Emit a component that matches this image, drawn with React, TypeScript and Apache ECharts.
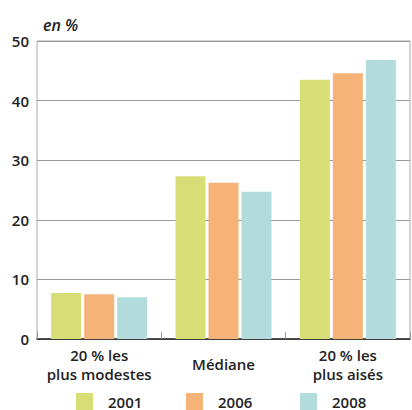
import React, { useEffect, useRef } from "react";
import * as echarts from "echarts";

const categories = ["20 % les\nplus modestes", "Médiane", "20 % les\nplus aisés"];
const years = ["2001", "2006", "2008"];
const values2001 = [7.7, 27.3, 43.5];
const values2006 = [7.5, 26.2, 44.6];
const values2008 = [7.0, 24.7, 46.8];
const yTicks = [0, 10, 20, 30, 40, 50];
const colors = ["#d6de75", "#f5b378", "#b1dcdb"];

const FONT = "'Open Sans', 'Noto Sans', sans-serif";

export default function App() {
  const ref = useRef<HTMLDivElement>(null);
  useEffect(() => {
    if (!ref.current) return;
    const chart = echarts.init(ref.current, undefined, { renderer: "svg" });
    const seriesData = [values2001, values2006, values2008];
    const legendLefts = [76, 186, 300];
    const LH = 19;
    const catData = categories.map((c) =>
      c.indexOf("\n") >= 0
        ? c
        : { value: c, textStyle: { lineHeight: LH * 2 } }
    );
    chart.setOption({
      animation: false,
      backgroundColor: "#ffffff",
      title: {
        text: "en %",
        left: 38,
        top: 12,
        textStyle: {
          fontFamily: FONT,
          fontStyle: "italic",
          fontWeight: 600,
          fontSize: 16,
          color: "#222",
        },
      },
      grid: {
        left: 37,
        right: 2,
        top: 41,
        bottom: 71,
        show: true,
        borderColor: "#aaa",
        borderWidth: 1,
      },
      legend: years.map((y, i) => ({
        data: [y],
        left: legendLefts[i],
        top: 393,
        padding: 0,
        itemWidth: 17,
        itemHeight: 17,
        itemGap: 0,
        icon: "rect",
        textStyle: {
          fontFamily: FONT,
          fontWeight: 600,
          fontSize: 15,
          lineHeight: 17,
          color: "#222",
          padding: [0, 0, 0, 10],
        },
      })),
      xAxis: {
        type: "category",
        data: catData,
        axisLine: { show: true, lineStyle: { color: "#222", width: 1.5 } },
        axisTick: {
          show: true,
          inside: true,
          length: 7,
          lineStyle: { color: "#999", width: 1 },
        },
        axisLabel: {
          interval: 0,
          fontFamily: FONT,
          fontWeight: 600,
          fontSize: 15,
          color: "#222",
          lineHeight: LH,
          margin: 6,
        },
      },
      yAxis: {
        type: "value",
        min: yTicks[0],
        max: yTicks[yTicks.length - 1],
        interval: 10,
        axisLine: { show: false },
        axisTick: { show: false },
        axisLabel: {
          fontFamily: FONT,
          fontWeight: 600,
          fontSize: 15,
          color: "#222",
          margin: 8,
        },
        splitLine: { show: true, lineStyle: { color: "#999", width: 1 } },
      },
      series: years.map((y, i) => ({
        name: y,
        type: "bar",
        data: seriesData[i],
        barWidth: 30,
        barGap: "10%",
        itemStyle: { color: colors[i] },
      })),
    });
    return () => chart.dispose();
  }, []);
  return (
    <div
      ref={ref}
      style={{ position: "fixed", left: 0, top: 0, width: 412, height: 410 }}
    />
  );
}
